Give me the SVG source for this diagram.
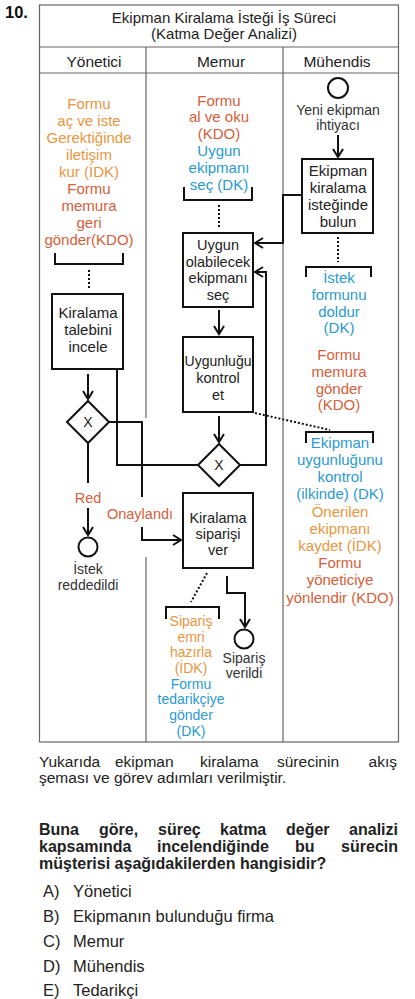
<svg xmlns="http://www.w3.org/2000/svg" width="415" height="999" viewBox="0 0 415 999">
<style>
text{font-family:"Liberation Sans",Arial,sans-serif}
.c{text-anchor:middle;font-size:15px}
.s{text-anchor:middle;font-size:14px}
.or{fill:#E9963F}
.rd{fill:#D5603A}
.bl{fill:#2A9AD0}
.dk{fill:#333}
.bk{fill:#222}
.tb{stroke:#666;stroke-width:1.2;fill:none}
.box{fill:#fff;stroke:#111;stroke-width:2}
.ln{fill:none;stroke:#111;stroke-width:2}
.ar{fill:none;stroke:#111;stroke-width:2;marker-end:url(#ah)}
.dt{fill:none;stroke:#111;stroke-width:2;stroke-dasharray:2 2}
.br{fill:none;stroke:#111;stroke-width:2}
.p{font-size:15.5px;fill:#222}
.q{font-size:16px;font-weight:bold;fill:#222}
.o{font-size:16.5px;fill:#222}
</style>
<defs>
<marker id="ah" viewBox="0 0 12 12" refX="10" refY="6" markerWidth="12" markerHeight="12" markerUnits="userSpaceOnUse" orient="auto">
<path d="M2,1 L10,6 L2,11" fill="none" stroke="#111" stroke-width="2"/>
</marker>
</defs>
<rect width="415" height="999" fill="#fff"/>
<text x="5" y="18" style="font-size:16.5px;font-weight:bold" fill="#111">10.</text>
<g id="table">
<rect class="tb" x="39.5" y="5" width="359" height="737"/>
<line class="tb" x1="39.5" y1="47" x2="398.5" y2="47"/>
<line class="tb" x1="39.5" y1="73" x2="398.5" y2="73"/>
<line class="tb" x1="146" y1="47" x2="146" y2="418"/>
<line class="tb" x1="146" y1="557" x2="146" y2="742"/>
<line class="tb" x1="283" y1="47" x2="283" y2="742"/>
<text class="c bk" x="224" y="23">Ekipman Kiralama İsteği İş Süreci</text>
<text class="c bk" x="224" y="39">(Katma Değer Analizi)</text>
<text class="c bk" x="94" y="67" style="font-size:15.5px">Yönetici</text>
<text class="c bk" x="221" y="67" style="font-size:15.5px">Memur</text>
<text class="c bk" x="337" y="67" style="font-size:15.5px">Mühendis</text>
</g>
<g id="yonetici-notes">
<text class="c or" x="89" y="109">Formu</text>
<text class="c or" x="89" y="126">aç ve iste</text>
<text class="c or" x="89" y="143">Gerektiğinde</text>
<text class="c or" x="89" y="160">iletişim</text>
<text class="c or" x="89" y="177">kur (İDK)</text>
<text class="c rd" x="89" y="194">Formu</text>
<text class="c rd" x="89" y="211">memura</text>
<text class="c rd" x="89" y="228">geri</text>
<text class="c rd" x="89" y="245">gönder(KDO)</text>
<path class="br" d="M55,253 V264 H123 V253"/>
</g>
<g id="memur-notes">
<text class="c rd" x="219" y="106">Formu</text>
<text class="c rd" x="219" y="122">al ve oku</text>
<text class="c rd" x="219" y="139">(KDO)</text>
<text class="c bl" x="219" y="156">Uygun</text>
<text class="c bl" x="219" y="173">ekipmanı</text>
<text class="c bl" x="219" y="190">seç (DK)</text>
<path class="br" d="M184,187 V200 H252 V187"/>
</g>
<g id="muhendis-start">
<circle cx="338" cy="88" r="10" fill="#fff" stroke="#111" stroke-width="2"/>
<text class="s dk" x="338" y="115">Yeni ekipman</text>
<text class="s dk" x="338" y="130">ihtiyacı</text>
</g>
<g id="box-ekipman-kiralama">
<rect class="box" x="302" y="159" width="71" height="74"/>
<text class="c bk" x="338" y="176">Ekipman</text>
<text class="c bk" x="338" y="193">kiralama</text>
<text class="c bk" x="338" y="210">isteğinde</text>
<text class="c bk" x="338" y="227">bulun</text>
</g>
<g id="muhendis-notes1">
<path class="br" d="M306,277 V267 H371 V277"/>
<text class="c bl" x="339" y="283">İstek</text>
<text class="c bl" x="339" y="300">formunu</text>
<text class="c bl" x="339" y="317">doldur</text>
<text class="c bl" x="339" y="333">(DK)</text>
<text class="c rd" x="339" y="360">Formu</text>
<text class="c rd" x="339" y="377">memura</text>
<text class="c rd" x="339" y="394">gönder</text>
<text class="c rd" x="339" y="410">(KDO)</text>
</g>
<g id="muhendis-notes2">
<path class="br" d="M306,443 V432 H373 V443"/>
<text class="c bl" x="340" y="448">Ekipman</text>
<text class="c bl" x="340" y="465">uygunluğunu</text>
<text class="c bl" x="340" y="482">kontrol</text>
<text class="c bl" x="340" y="499">(ilkinde) (DK)</text>
<text class="c or" x="340" y="517">Önerilen</text>
<text class="c or" x="340" y="534">ekipmanı</text>
<text class="c or" x="340" y="551">kaydet (İDK)</text>
<text class="c rd" x="340" y="568">Formu</text>
<text class="c rd" x="340" y="585">yöneticiye</text>
<text class="c rd" x="340" y="603">yönlendir (KDO)</text>
</g>
<g id="box-uygun-olabilecek">
<rect class="box" x="183" y="233" width="70" height="74"/>
<text class="c bk" x="218" y="250" style="font-size:14.5px">Uygun</text>
<text class="c bk" x="218" y="267" style="font-size:14.5px">olabilecek</text>
<text class="c bk" x="218" y="283" style="font-size:14.5px">ekipmanı</text>
<text class="c bk" x="218" y="300" style="font-size:14.5px">seç</text>
</g>
<g id="box-uygunlugu">
<rect class="box" x="183" y="337" width="70" height="75"/>
<text class="c bk" x="218" y="366" style="font-size:14px">Uygunluğu</text>
<text class="c bk" x="218" y="383" style="font-size:14.5px">kontrol</text>
<text class="c bk" x="218" y="400" style="font-size:14.5px">et</text>
</g>
<g id="gate-memur">
<path class="box" d="M219,444 L240,465 L219,486 L198,465 Z"/>
<text class="s bk" x="219" y="470">X</text>
</g>
<g id="box-kiralama-talebini">
<rect class="box" x="52" y="294" width="71" height="75"/>
<text class="c bk" x="88" y="318">Kiralama</text>
<text class="c bk" x="88" y="335">talebini</text>
<text class="c bk" x="88" y="352">incele</text>
</g>
<g id="gate-yonetici">
<path class="box" d="M88,401 L109,422 L88,443 L67,422 Z"/>
<text class="s bk" x="88" y="427">X</text>
</g>
<g id="end-reddedildi">
<circle cx="88" cy="547" r="9.5" fill="#fff" stroke="#111" stroke-width="2"/>
<text class="s dk" x="88" y="574">İstek</text>
<text class="s dk" x="88" y="590">reddedildi</text>
</g>
<g id="box-kiralama-siparisi">
<rect class="box" x="183" y="493" width="70" height="75"/>
<text class="c bk" x="218" y="523" style="font-size:14.5px">Kiralama</text>
<text class="c bk" x="218" y="539" style="font-size:14.5px">siparişi</text>
<text class="c bk" x="218" y="555" style="font-size:14.5px">ver</text>
</g>
<g id="memur-notes2">
<path class="br" d="M166,619 V607 H219 V619"/>
<text class="s or" x="191" y="626">Sipariş</text>
<text class="s or" x="191" y="642">emri</text>
<text class="s or" x="191" y="657">hazırla</text>
<text class="s or" x="191" y="673">(İDK)</text>
<text class="s bl" x="191" y="689">Formu</text>
<text class="s bl" x="191" y="704">tedarikçiye</text>
<text class="s bl" x="191" y="720">gönder</text>
<text class="s bl" x="191" y="736">(DK)</text>
</g>
<g id="end-siparis">
<circle cx="244" cy="639" r="9.5" fill="#fff" stroke="#111" stroke-width="2"/>
<text class="s dk" x="244" y="663">Sipariş</text>
<text class="s dk" x="244" y="678">verildi</text>
</g>
<g id="connectors">
<path class="ar" d="M338,135 V157"/>
<path class="ar" d="M302,195 H283 V243 H255"/>
<path class="ar" d="M219,310 V334"/>
<path class="ar" d="M219,416 V442"/>
<path class="ar" d="M240,465 H266 V272 H255"/>
<path class="ln" d="M198,465 H117 V369"/>
<path class="ar" d="M88,374 V399"/>
<path class="ln" d="M109,422 H142 V497"/>
<path class="ar" d="M142,527 V540 H181"/>
<path class="ln" d="M88,443 V483"/>
<path class="ar" d="M88,508 V535"/>
<path class="ar" d="M227,576 V593 H245 V627"/>
<path class="dt" d="M89,270 V290"/>
<path class="dt" d="M219,205 V229"/>
<path class="dt" d="M338,237 V262"/>
<path class="dt" d="M255,413 L330,430"/>
<path class="dt" d="M207,573 L191,602"/>
<text class="c rd" x="88" y="503" style="font-size:14.5px">Red</text>
<text class="c rd" x="140" y="519" style="font-size:14.5px">Onaylandı</text>
</g>
<g id="question">
<text class="p" x="39" y="767">Yukarıda</text>
<text class="p" x="115" y="767">ekipman</text>
<text class="p" x="200" y="767">kiralama</text>
<text class="p" x="277" y="767">sürecinin</text>
<text class="p" x="397" y="767" text-anchor="end">akış</text>
<text class="p" x="39" y="783">şeması ve görev adımları verilmiştir.</text>
<text class="q" x="39" y="835">Buna</text>
<text class="q" x="99" y="835">göre,</text>
<text class="q" x="158" y="835">süreç</text>
<text class="q" x="220" y="835">katma</text>
<text class="q" x="286" y="835">değer</text>
<text class="q" x="398" y="835" text-anchor="end">analizi</text>
<text class="q" x="39" y="852">kapsamında</text>
<text class="q" x="157" y="852">incelendiğinde</text>
<text class="q" x="295" y="852">bu</text>
<text class="q" x="398" y="852" text-anchor="end">sürecin</text>
<text class="q" x="39" y="869">müşterisi aşağıdakilerden hangisidir?</text>
<text class="o" x="43" y="897">A)</text><text class="o" x="73" y="897">Yönetici</text>
<text class="o" x="43" y="922">B)</text><text class="o" x="73" y="922">Ekipmanın bulunduğu firma</text>
<text class="o" x="43" y="947">C)</text><text class="o" x="73" y="947">Memur</text>
<text class="o" x="43" y="972">D)</text><text class="o" x="73" y="972">Mühendis</text>
<text class="o" x="43" y="996">E)</text><text class="o" x="73" y="996">Tedarikçi</text>
</g>
</svg>
